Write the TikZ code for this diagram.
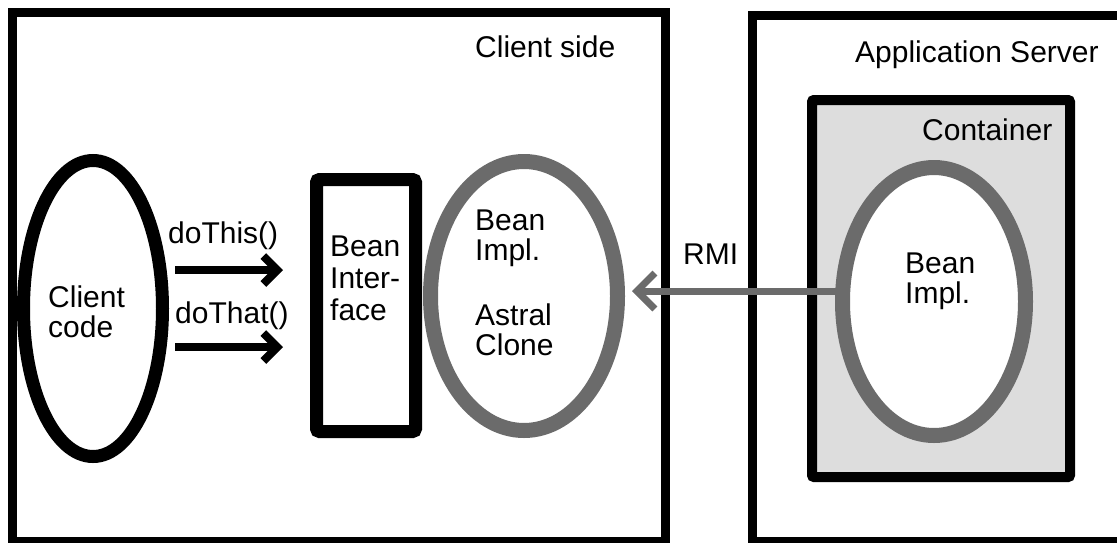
\documentclass[tikz,border=0pt]{standalone}
\usepackage{fontspec}
\setmainfont{Liberation Sans}
\usetikzlibrary{arrows.meta}
\usetikzlibrary{shapes.geometric}

\definecolor{implgray}{RGB}{107,107,107}
\definecolor{boxgray}{RGB}{221,221,221}

\begin{document}
\begin{tikzpicture}[x=1pt,y=-1pt,
  lbl/.style={font=\fontsize{30}{30}\selectfont, inner sep=0pt, anchor=base west, align=left},
  frame/.style={draw, line width=9pt},
  blackoval/.style={ellipse, draw, line width=13pt, inner sep=0pt},
  greyoval/.style={ellipse, draw=implgray, fill=white, line width=15pt, inner sep=0pt},
  call/.style={line width=8pt, -{Straight Barb[length=14pt,width=28pt]}},
  rmicall/.style={draw=implgray, line width=7pt, -{Straight Barb[length=18pt,width=36pt]}}]
\useasboundingbox (0,0) rectangle (1117,542);

\draw[frame] (12,12) rectangle (665,541);
\draw[frame] (752,15) rectangle (1121,541);
\draw[frame, fill=boxgray, line width=10pt, rounded corners=2pt] (812,100) rectangle (1070,477);

\node[blackoval, minimum width=139pt, minimum height=296pt] (code) at (93,308.5) {};
\node[draw, line width=13pt, rounded corners=3pt, minimum width=99pt, minimum height=252pt, inner sep=0pt] (iface) at (366,305.5) {};
\node[greyoval, minimum width=187pt, minimum height=269pt] (clone) at (524,296) {};
\node[greyoval, minimum width=183pt, minimum height=268pt] (srvimpl) at (934,301.5) {};

\node[lbl] (clientside) at (475,57) {Client side};
\node[lbl] (appserver) at (855,62) {Application Server};
\node[lbl] (container) at (922,140) {Container};
\node[lbl] (codetxt) at (48,337) {Client\\code};
\node[lbl, font=\fontsize{30}{32}\selectfont] (ifacetxt) at (330,320) {Bean\\Inter-\\face};
\node[lbl] (clonetxt) at (475,355) {Bean\\Impl.\\[35pt]Astral\\Clone};
\node[lbl] (impltxt) at (905,303) {Bean\\Impl.};
\node[lbl] (dothis) at (168,243) {doThis()};
\node[lbl] (dothat) at (175,323) {doThat()};
\node[lbl] (rmi) at (683,264) {RMI};

\foreach \y in {270,347} \draw[call, shorten <=6pt, shorten >=27pt] (code.east |- 0,\y) -- (iface.west |- 0,\y);

\draw[rmicall, shorten <=-7pt, shorten >=7pt] (srvimpl.west |- 0,291) -- (clone.east |- 0,291);

\end{tikzpicture}
\end{document}
